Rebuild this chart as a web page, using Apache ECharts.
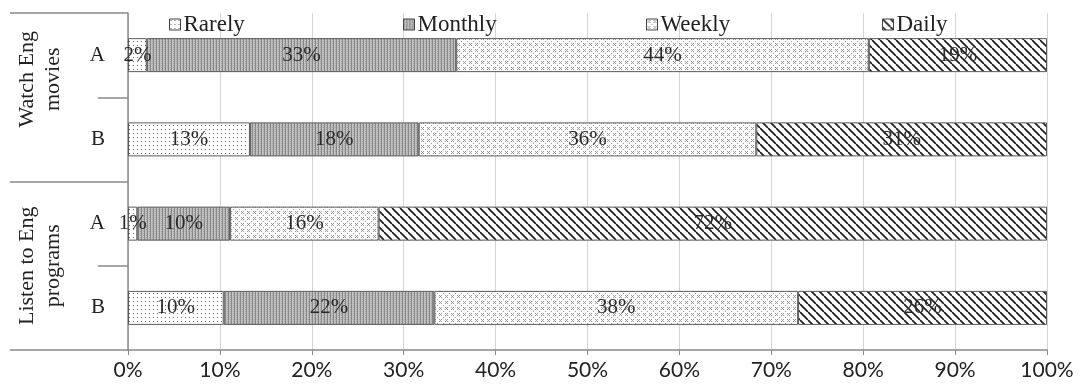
<!DOCTYPE html>
<html>
<head>
<meta charset="utf-8">
<script src="https://cdn.jsdelivr.net/npm/echarts@6/dist/echarts.min.js"></script>
<style>
  html, body { margin: 0; padding: 0; background: #fff; }
  #chart { width: 1080px; height: 391px; }
</style>
</head>
<body>
<div id="chart"></div>
<script>
// Groups (outer axis level) and respondent rows (inner axis level), top to bottom
const groups = ['Watch Eng\nmovies', 'Listen to Eng\nprograms'];
const rows = ['A', 'B', 'A', 'B'];

// Frequency answers, percent of respondents per row
const rarely  = [2, 13, 1, 10];
const monthly = [33, 18, 10, 22];
const weekly  = [44, 36, 16, 38];
const daily   = [19, 31, 72, 26];

const seriesNames = ['Rarely', 'Monthly', 'Weekly', 'Daily'];
const xTicks = [0, 10, 20, 30, 40, 50, 60, 70, 80, 90, 100];

// --- fill patterns ---------------------------------------------------------
function makeTile(w, h, draw) {
  const c = document.createElement('canvas');
  c.width = w; c.height = h;
  draw(c.getContext('2d'), w, h);
  return c;
}
const dotTile = makeTile(4, 4, (g) => {
  g.fillStyle = '#fff'; g.fillRect(0, 0, 4, 4);
  g.fillStyle = '#6a6a6a'; g.fillRect(1, 1, 1, 1);
});
const grayTile = makeTile(3, 2, (g) => {
  g.fillStyle = '#c2c2c2'; g.fillRect(0, 0, 3, 2);
  g.fillStyle = '#888'; g.fillRect(0, 0, 1, 2);
  g.fillStyle = '#a4a4a4'; g.fillRect(2, 1, 1, 1);
});
const crossTile = makeTile(6, 6, (g) => {
  g.fillStyle = '#fff'; g.fillRect(0, 0, 6, 6);
  g.fillStyle = '#9a9a9a';
  [[1, 1], [3, 1], [2, 2], [1, 3], [3, 3], [5, 5]].forEach(([x, y]) => g.fillRect(x, y, 1, 1));
});
const hatchTile = makeTile(8, 8, (g) => {
  g.fillStyle = '#fff'; g.fillRect(0, 0, 8, 8);
  g.strokeStyle = '#1e1e1e'; g.lineWidth = 1.7;
  for (let k = -1; k <= 1; k++) {
    g.beginPath(); g.moveTo(0, k * 8); g.lineTo(8, 8 + k * 8); g.stroke();
  }
});
const fills = [dotTile, grayTile, crossTile, hatchTile].map(t => ({ image: t, repeat: 'repeat' }));

// --- 100% stacking ------------------------------------------------------------
const values = [rarely, monthly, weekly, daily];
const totals = rows.map((_, i) => values.reduce((s, arr) => s + arr[i], 0));

const serif = 'Liberation Serif';
const axisGray = '#8a8a8a';
const ink = '#222';

const series = seriesNames.map((name, si) => ({
  name,
  type: 'bar',
  stack: 'all',
  barWidth: 34,
  yAxisIndex: 0,
  data: values[si].map((v, i) => v / totals[i] * 100),
  itemStyle: { color: fills[si], borderColor: '#5a5a5a', borderWidth: 1 },
  label: {
    show: true,
    position: 'inside',
    fontFamily: serif,
    fontSize: 21,
    color: '#2a2a2a',
    formatter: (p) => values[si][p.dataIndex] + '%'
  },
  emphasis: { disabled: true }
}));

const legendLefts = [164, 398, 641, 877];
const legends = seriesNames.map((name, i) => ({
  data: [name],
  left: legendLefts[i],
  top: 8,
  itemWidth: 11,
  itemHeight: 11,
  itemGap: 4,
  icon: 'rect',
  itemStyle: { borderColor: '#444', borderWidth: 1 },
  textStyle: { fontFamily: serif, fontSize: 23, color: ink, padding: [0, 0, 0, -2] },
  selectedMode: false
}));

// the upper group caption sits higher in its band than the lower one
const groupShift = [36, 0];
const groupRich = {};
groupShift.forEach((s, i) => {
  groupRich['g' + i] = { fontFamily: serif, fontSize: 22, color: ink, lineHeight: 26, padding: [0, 0, 0, s] };
});

const chart = echarts.init(document.getElementById('chart'), null, { renderer: 'canvas' });
chart.setOption({
  animation: false,
  backgroundColor: '#fff',
  legend: legends,
  grid: { left: 128, right: 33, top: 13, bottom: 41, containLabel: false },
  xAxis: {
    type: 'value',
    min: 0, max: 100, interval: 10,
    axisLine: { show: true, lineStyle: { color: axisGray, width: 1.5 } },
    axisTick: { show: true, length: 5, lineStyle: { color: axisGray } },
    splitLine: { show: true, lineStyle: { color: '#d4d4d4', width: 1 } },
    axisLabel: {
      formatter: (v) => xTicks.includes(v) ? v + '%' : '',
      fontFamily: 'Lato', fontSize: 21, color: ink, margin: 10
    }
  },
  yAxis: [
    {
      type: 'category',
      data: rows,
      inverse: true,
      axisLine: { show: true, lineStyle: { color: axisGray, width: 1.5 } },
      axisTick: { show: true, length: 30, lineStyle: { color: axisGray, width: 1.5 } },
      axisLabel: { fontFamily: serif, fontSize: 21, color: ink, margin: 23 },
      splitLine: { show: false }
    },
    {
      type: 'category',
      data: groups,
      inverse: true,
      position: 'left',
      axisLine: { show: false },
      axisTick: { show: true, length: 118, lineStyle: { color: axisGray, width: 1.5 } },
      axisLabel: {
        rotate: 90, margin: 62,
        formatter: (v, idx) => v.split('\n').map(l => '{g' + idx + '|' + l + '}').join('\n'),
        rich: groupRich
      },
      splitLine: { show: false }
    }
  ],
  series
});
</script>
</body>
</html>
